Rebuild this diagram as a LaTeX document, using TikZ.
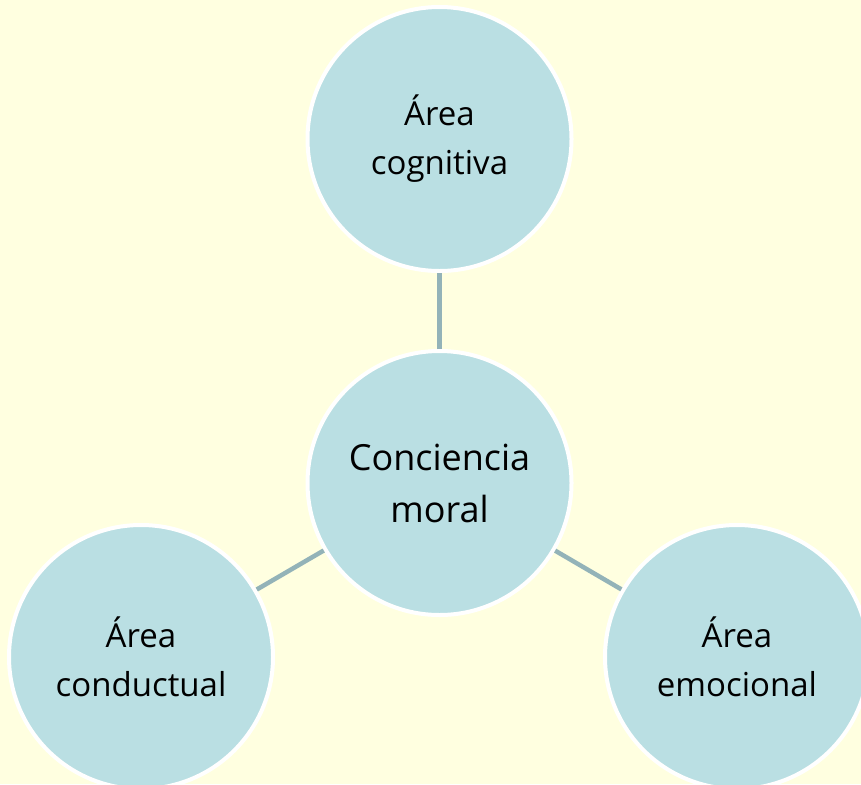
\documentclass[tikz,border=0pt]{standalone}
\usepackage{fontspec}
\setmainfont{Open Sans}
\definecolor{bgyellow}{HTML}{FFFFE0}
\definecolor{circfill}{HTML}{BADFE3}
\definecolor{connline}{HTML}{93B3B8}
\tikzset{
  bubble/.style={circle, fill=circfill, draw=white, line width=4pt, minimum size=264pt, inner sep=0pt, align=center, text=black, font=\fontsize{33}{49}\selectfont},
  mainbubble/.style={bubble, font=\fontsize{36}{52}\selectfont},
  conn/.style={draw=connline, line width=4.5pt}
}
\begin{document}
\begin{tikzpicture}[x=1pt,y=-1pt]
\fill[bgyellow] (0,0) rectangle (861,784);
\useasboundingbox (0,0) rectangle (861,784);
\node[mainbubble] (c) at (439.5,483) {Conciencia\\moral};
\node[bubble] (top) at (439.5,139) {Área\\cognitiva};
\node[bubble] (bl) at (141,657) {Área\\conductual};
\node[bubble] (br) at (737,657) {Área\\emocional};
\draw[conn] (c) -- (top);
\draw[conn] (c) -- (bl);
\draw[conn] (c) -- (br);
\end{tikzpicture}
\end{document}
